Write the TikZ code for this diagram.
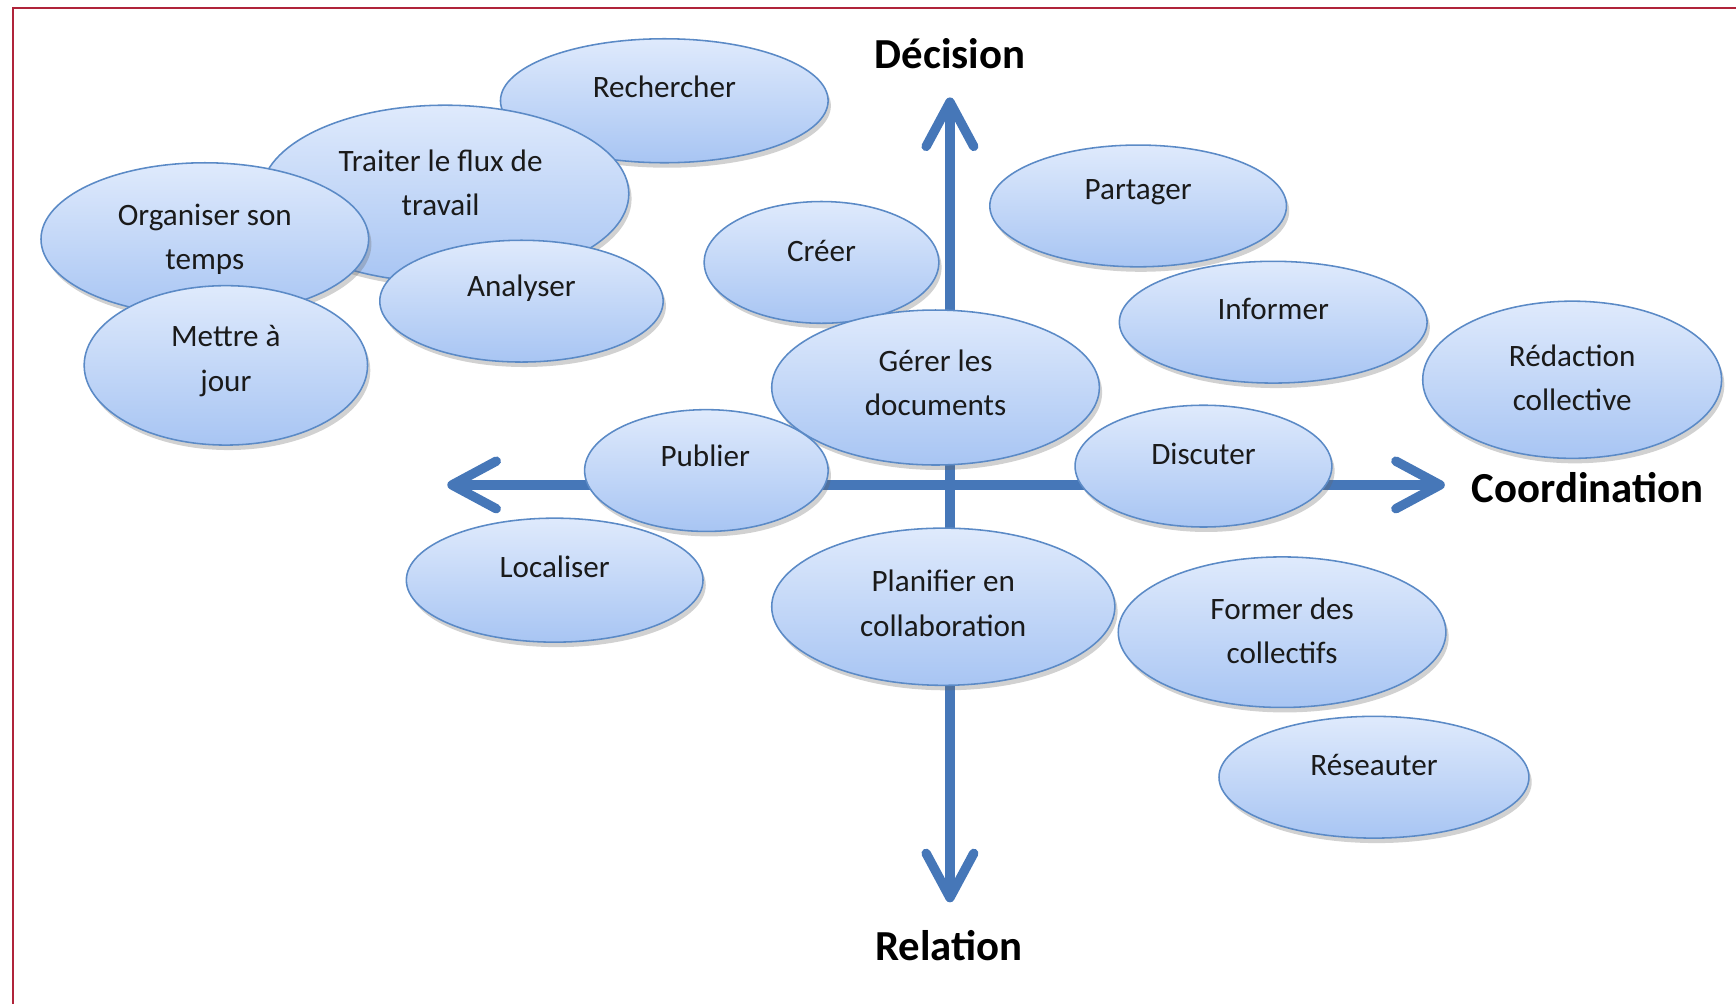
\documentclass[tikz,border=0pt]{standalone}
\usepackage{fontspec}
\setmainfont{Carlito}
\usepackage{xcolor}
\usepackage{tikz}
\usetikzlibrary{arrows.meta, shapes.geometric, shadows}

\definecolor{bord}{HTML}{5B8AC6}
\definecolor{haut}{HTML}{DFEAFC}
\definecolor{bas}{HTML}{A8C5F3}
\definecolor{axe}{HTML}{4677B8}
\definecolor{cadre}{HTML}{B0243A}
\definecolor{encre}{HTML}{1A1A1A}

\tikzset{
  bulle/.style={ellipse, draw=bord, line width=0.8pt, inner sep=0pt,
    top color=haut, bottom color=bas,
    drop shadow={shadow xshift=0.05cm, shadow yshift=-0.09cm, opacity=0.3, fill=black!60}},
  etiq/.style={align=center, text=encre, inner sep=0pt,
    font=\fontsize{16}{22.8}\selectfont},
  pole/.style={text=black, inner sep=0pt, font=\fontsize{22}{26}\selectfont\bfseries},
  fleche/.style={draw=axe, line width=0.17cm,
    {Straight Barb[length=0.8cm, width=0.86cm, round]}-{Straight Barb[length=0.8cm, width=0.86cm, round]}}
}

\begin{document}
\begin{tikzpicture}[x=0.02cm, y=-0.02cm]
    \useasboundingbox (0,0) rectangle (1568,907);
    \draw[cadre, line width=1pt] (12,907) -- (12,7) -- (1568,7);

    % axes
    \coordinate (nord) at (858,88);
    \coordinate (sud) at (858,815);
    \coordinate (ouest) at (404,438);
    \coordinate (est) at (1305,438);
    \draw[fleche] (ouest) -- (est);
    \draw[fleche] (sud) -- (nord);

    \node[pole] (dec) at (858,48) {Décision};
    \node[pole] (rel) at (857,854) {Relation};
    \node[pole] (coord) at (1434,440) {Coordination};

    % bulles
    \node[bulle, minimum width=5.92cm, minimum height=2.24cm] (rech) at (600,91) {};
    \node[etiq] (rech-t) at (600,78) {Rechercher};
    \node[bulle, minimum width=6.64cm, minimum height=3.2cm] (flux) at (402,175) {};
    \node[etiq] (flux-t) at (398,165) {Traiter le flux de\\travail};
    \node[bulle, minimum width=5.92cm, minimum height=2.76cm] (orga) at (185,216) {};
    \node[etiq] (orga-t) at (185,216) {Organiser son\\temps};
    \node[bulle, minimum width=5.12cm, minimum height=2.2cm] (anal) at (471,272) {};
    \node[etiq] (anal-t) at (471,260) {Analyser};
    \node[bulle, minimum width=5.12cm, minimum height=2.88cm] (mett) at (204,330) {};
    \node[etiq] (mett-t) at (204,326) {Mettre à\\jour};

    \node[bulle, minimum width=4.24cm, minimum height=2.2cm] (creer) at (742,237) {};
    \node[etiq] (creer-t) at (742,227) {Créer};
    \node[bulle, minimum width=5.92cm, minimum height=2.8cm] (gerer) at (845,350) {};
    \node[etiq] (gerer-t) at (845,346) {Gérer les\\documents};
    \node[bulle, minimum width=4.4cm, minimum height=2.2cm] (publ) at (638,425) {};
    \node[etiq] (publ-t) at (637,412) {Publier};

    \node[bulle, minimum width=5.36cm, minimum height=2.2cm] (part) at (1028,186) {};
    \node[etiq] (part-t) at (1028,174) {Partager};
    \node[bulle, minimum width=5.56cm, minimum height=2.2cm] (info) at (1150,291) {};
    \node[etiq] (info-t) at (1150,279) {Informer};
    \node[bulle, minimum width=5.4cm, minimum height=2.84cm] (redac) at (1420,343) {};
    \node[etiq] (redac-t) at (1420,341) {Rédaction\\collective};
    \node[bulle, minimum width=4.64cm, minimum height=2.2cm] (disc) at (1087,421) {};
    \node[etiq] (disc-t) at (1087,410) {Discuter};

    \node[bulle, minimum width=5.36cm, minimum height=2.24cm] (loca) at (501,524) {};
    \node[etiq] (loca-t) at (501,512) {Localiser};
    \node[bulle, minimum width=6.2cm, minimum height=2.84cm] (plan) at (852,548) {};
    \node[etiq] (plan-t) at (852,545) {Planifier en\\collaboration};
    \node[bulle, minimum width=5.92cm, minimum height=2.72cm] (form) at (1158,571) {};
    \node[etiq] (form-t) at (1158,570) {Former des\\collectifs};
    \node[bulle, minimum width=5.6cm, minimum height=2.2cm] (rese) at (1241,702) {};
    \node[etiq] (rese-t) at (1241,691) {Réseauter};
\end{tikzpicture}
\end{document}
